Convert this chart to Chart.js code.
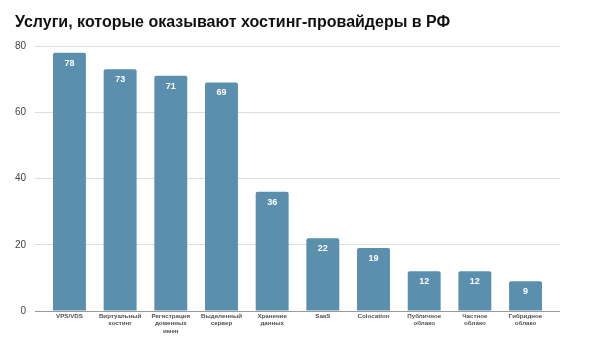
<!DOCTYPE html>
<html>
<head>
<meta charset="utf-8">
<script src="https://cdn.jsdelivr.net/npm/chart.js@4"></script>
<style>
  body { margin: 0; background: #fff; }
  canvas { display: block; }
</style>
</head>
<body>
<canvas id="grafico" width="600" height="342"></canvas>
<script>
// dados do gráfico
const categorias = [
  'VPS/VDS',
  ['Виртуальный', 'хостинг'],
  ['Регистрация', 'доменных', 'имен'],
  ['Выделенный', 'сервер'],
  ['Хранение', 'данных'],
  'SaaS',
  'Colocation',
  ['Публичное', 'облако'],
  ['Частное', 'облако'],
  ['Гибридное', 'облако']
];
const valores = [78, 73, 71, 69, 36, 22, 19, 12, 12, 9];
const ticksY = [0, 20, 40, 60, 80];

Chart.defaults.font.family = "'Liberation Sans', Arial, sans-serif";

// escreve o valor dentro da barra
const rotulosBarras = {
  id: 'rotulosBarras',
  afterDatasetsDraw(chart) {
    const ctx = chart.ctx;
    const meta = chart.getDatasetMeta(0);
    ctx.save();
    ctx.fillStyle = '#ffffff';
    ctx.font = "bold 9px 'Liberation Sans', Arial, sans-serif";
    ctx.textAlign = 'center';
    ctx.textBaseline = 'middle';
    meta.data.forEach((barra, i) => {
      ctx.fillText(String(valores[i]), barra.x, barra.y + 10.5);
    });
    ctx.restore();
  }
};

const dados = {
  datasets: [{
    label: 'Услуги',
    data: valores.map((v, i) => ({ x: i, y: v })),
    backgroundColor: '#5a8fad',
    borderRadius: { topLeft: 2, topRight: 2 },
    borderSkipped: 'bottom',
    categoryPercentage: 1,
    barPercentage: 0.65
  }]
};

const config = {
  type: 'bar',
  data: dados,
  options: {
    responsive: false,
    animation: false,
    layout: { padding: { left: 15, right: 40, top: 0, bottom: 0 } },
    plugins: {
      legend: { display: false },
      tooltip: { enabled: false },
      title: {
        display: true,
        text: 'Услуги, которые оказывают хостинг-провайдеры в РФ',
        align: 'start',
        color: '#111111',
        font: { size: 16, weight: 'bold', lineHeight: 1.2 },
        padding: { top: 13, bottom: 13.8 }
      }
    },
    scales: {
      x: {
        type: 'linear',
        offset: false,
        min: -0.68,
        max: 9.68,
        grid: { display: false, drawTicks: false, offset: false },
        border: { display: false },
        ticks: {
          stepSize: 1,
          includeBounds: false,
          autoSkip: false,
          maxRotation: 0,
          padding: 1.6,
          color: '#505050',
          font: { size: 6.2, weight: 'bold', lineHeight: '7.3px' },
          callback: (v) => (Number.isInteger(v) && categorias[v] !== undefined) ? categorias[v] : ''
        },
        afterFit: (escala) => { escala.height = 31; }
      },
      y: {
        min: 0,
        max: 80,
        afterBuildTicks: (escala) => { escala.ticks = ticksY.map(v => ({ value: v })); },
        grid: {
          drawTicks: false,
          color: (c) => c.tick && c.tick.value === 0 ? '#9a9a9a' : '#dddddd'
        },
        border: { display: false },
        ticks: {
          padding: 9,
          color: '#444444',
          font: { size: 10 }
        },
        afterFit: (escala) => { escala.width = 20; }
      }
    }
  },
  plugins: [rotulosBarras]
};

const grafico = new Chart(document.getElementById('grafico'), config);
</script>
</body>
</html>
